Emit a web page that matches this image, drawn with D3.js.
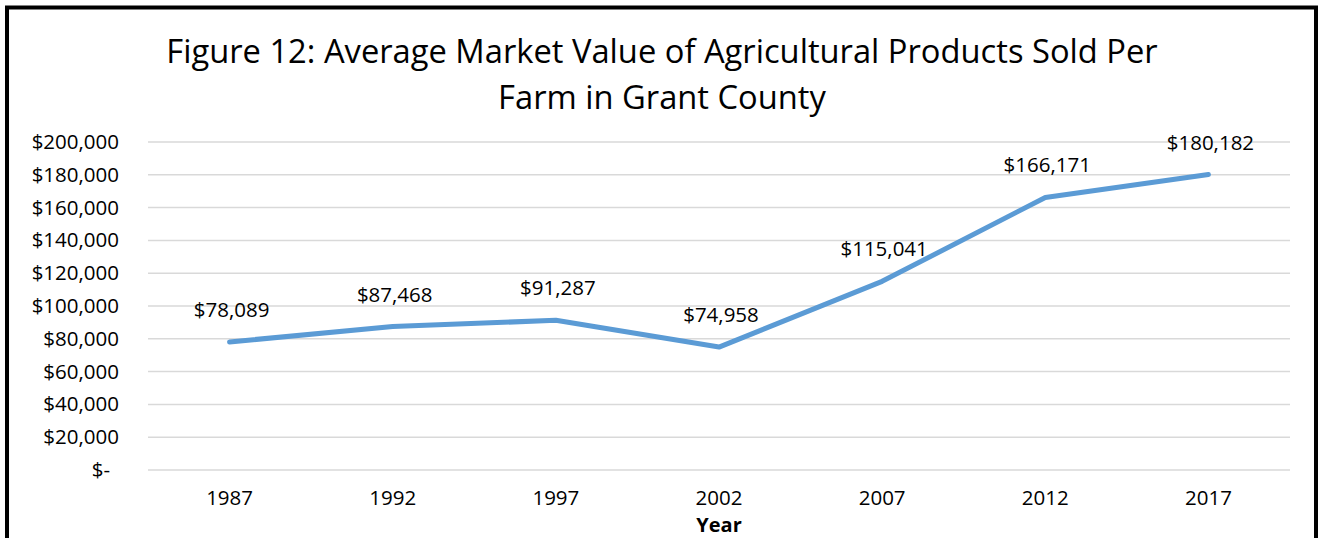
<!DOCTYPE html>
<html>
<head>
<meta charset="utf-8">
<script src="https://cdn.jsdelivr.net/npm/d3@7"></script>
<style>
  html, body { margin: 0; padding: 0; background: #fff; }
  svg { display: block; font-family: "Open Sans", sans-serif; }
</style>
</head>
<body>
<svg id="chart" width="1320" height="538"></svg>
<script>
const categories = ["1987", "1992", "1997", "2002", "2007", "2012", "2017"];
const values = [78089, 87468, 91287, 74958, 115041, 166171, 180182];
const tickValues = [0, 20000, 40000, 60000, 80000, 100000, 120000, 140000, 160000, 180000, 200000];
const titleLines = ["Figure 12: Average Market Value of Agricultural Products Sold Per", "Farm in Grant County"];
const xAxisTitle = "Year";

const svg = d3.select("#chart");

// border
svg.append("rect")
  .attr("x", 7).attr("y", 7.5).attr("width", 1309).attr("height", 560)
  .attr("fill", "none").attr("stroke", "#000").attr("stroke-width", 4);

// title
svg.append("text")
  .attr("text-anchor", "middle")
  .attr("font-size", 32.7)
  .attr("fill", "#000")
  .selectAll("tspan").data(titleLines).join("tspan")
  .attr("x", 662).attr("y", (d, i) => 63 + i * 46)
  .text(d => d);

const x = d3.scaleBand().domain(categories).range([148, 1290]);
const y = d3.scaleLinear().domain([0, 200000]).range([470, 142]);

const fmt = d3.format(",");
const tickLabel = v => v === 0 ? "$-" : "$" + fmt(v);

// gridlines
svg.append("g").selectAll("line").data(tickValues).join("line")
  .attr("x1", 148).attr("x2", 1290)
  .attr("y1", d => y(d)).attr("y2", d => y(d))
  .attr("stroke", "#d9d9d9").attr("stroke-width", 1.5);

// y axis labels via d3 axis
const yAxis = d3.axisLeft(y).tickValues(tickValues).tickFormat(tickLabel).tickSize(0).tickPadding(0);
const gy = svg.append("g").attr("transform", "translate(119,0)").call(yAxis);
gy.select(".domain").remove();
gy.selectAll("text")
  .attr("font-family", "Open Sans, sans-serif")
  .attr("font-size", 20.5)
  .attr("fill", "#000")
  .attr("dx", d => d === 0 ? -9 : 0);

// x axis labels
const xAxis = d3.axisBottom(x).tickSize(0).tickPadding(0);
const gx = svg.append("g").attr("transform", "translate(0,490)").call(xAxis);
gx.select(".domain").remove();
gx.selectAll("text")
  .attr("font-family", "Open Sans, sans-serif")
  .attr("font-size", 20.5)
  .attr("fill", "#000");

// x axis title
svg.append("text")
  .attr("x", (148 + 1290) / 2).attr("y", 532)
  .attr("text-anchor", "middle")
  .attr("font-size", 20).attr("font-weight", "bold")
  .attr("fill", "#000")
  .text(xAxisTitle);

// line
const line = d3.line()
  .x((d, i) => x(categories[i]) + x.bandwidth() / 2)
  .y(d => y(d));
svg.append("path").datum(values)
  .attr("d", line)
  .attr("fill", "none")
  .attr("stroke", "#5b9bd5")
  .attr("stroke-width", 5)
  .attr("stroke-linejoin", "round")
  .attr("stroke-linecap", "round");

// data labels
svg.append("g").selectAll("text").data(values).join("text")
  .attr("x", (d, i) => x(categories[i]) + x.bandwidth() / 2 + 2)
  .attr("y", d => y(d) - 25)
  .attr("text-anchor", "middle")
  .attr("font-size", 20.5)
  .attr("fill", "#000")
  .text(d => "$" + fmt(d));
</script>
</body>
</html>
